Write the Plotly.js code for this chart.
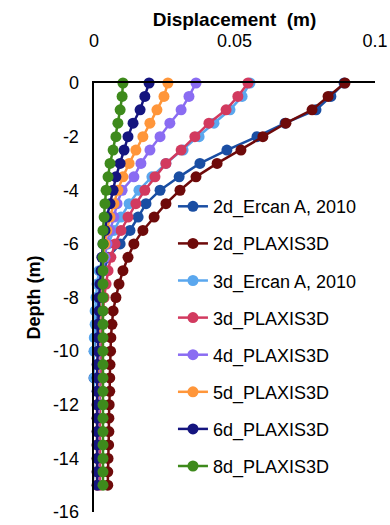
<!DOCTYPE html>
<html>
<head>
<meta charset="utf-8">
<script src="https://cdn.plot.ly/plotly-3.0.1.min.js"></script>
<style>
html,body{margin:0;padding:0;background:#fff;}
#chart{width:390px;height:525px;}
</style>
</head>
<body>
<div id="chart"></div>
<script>
var depth = [0,-0.5,-1,-1.5,-2,-2.5,-3,-3.5,-4,-4.5,-5,-5.5,-6,-6.5,-7,-7.5,-8,-8.5,-9,-9.5,-10,-10.5,-11,-11.5,-12,-12.5,-13,-13.5,-14,-14.5,-15];

var seriesNames = ["2d_Ercan A, 2010","2d_PLAXIS3D","3d_Ercan A, 2010","3d_PLAXIS3D","4d_PLAXIS3D","5d_PLAXIS3D","6d_PLAXIS3D","8d_PLAXIS3D"];

var d2_ercan = [0.0890,0.0843,0.0790,0.0680,0.0580,0.0473,0.0377,0.0303,0.0235,0.0185,0.0157,0.0128,0.0093,0.0050,0.0036,0.0025,0.0018,0.0011,0.0007,0.0004,0.0001,-0.0003,0.0000,-0.0002,-0.0006,-0.0003,-0.0005,-0.0009,-0.0006,-0.0002,-0.0005];
var d2_plaxis = [0.0893,0.0833,0.0776,0.0683,0.0601,0.0523,0.0438,0.0363,0.0306,0.0256,0.0214,0.0174,0.0142,0.0121,0.0103,0.0089,0.0078,0.0068,0.0064,0.0060,0.0059,0.0057,0.0056,0.0056,0.0054,0.0053,0.0053,0.0052,0.0050,0.0049,0.0049];
var d3_ercan = [0.0555,0.0527,0.0484,0.0427,0.0374,0.0317,0.0256,0.0206,0.0160,0.0125,0.0096,0.0071,0.0050,0.0032,0.0018,0.0011,0.0007,0.0004,0.0004,0.0001,0.0000,-0.0003,0.0001,-0.0002,-0.0006,-0.0003,-0.0007,-0.0003,-0.0006,-0.0002,-0.0005];
var d3_plaxis = [0.0548,0.0512,0.0470,0.0409,0.0359,0.0310,0.0256,0.0217,0.0181,0.0149,0.0121,0.0096,0.0075,0.0060,0.0050,0.0043,0.0036,0.0032,0.0028,0.0028,0.0025,0.0025,0.0025,0.0021,0.0021,0.0021,0.0021,0.0021,0.0021,0.0021,0.0021];
var d4_plaxis = [0.0363,0.0338,0.0310,0.0270,0.0235,0.0199,0.0167,0.0142,0.0100,0.0082,0.0071,0.0057,0.0046,0.0039,0.0032,0.0028,0.0025,0.0021,0.0021,0.0018,0.0018,0.0018,0.0018,0.0018,0.0018,0.0014,0.0014,0.0014,0.0014,0.0014,0.0014];
var d5_plaxis = [0.0263,0.0249,0.0224,0.0199,0.0174,0.0149,0.0125,0.0103,0.0085,0.0071,0.0057,0.0046,0.0039,0.0032,0.0028,0.0025,0.0021,0.0021,0.0018,0.0018,0.0014,0.0014,0.0014,0.0014,0.0011,0.0011,0.0011,0.0011,0.0011,0.0011,0.0011];
var d6_plaxis = [0.0196,0.0181,0.0164,0.0139,0.0121,0.0107,0.0093,0.0078,0.0068,0.0057,0.0046,0.0039,0.0032,0.0028,0.0025,0.0021,0.0018,0.0018,0.0014,0.0014,0.0014,0.0011,0.0011,0.0011,0.0011,0.0011,0.0011,0.0011,0.0011,0.0011,0.0011];
var d8_plaxis = [0.0103,0.0100,0.0093,0.0085,0.0078,0.0068,0.0057,0.0050,0.0043,0.0039,0.0036,0.0032,0.0032,0.0032,0.0032,0.0032,0.0032,0.0032,0.0032,0.0032,0.0032,0.0032,0.0032,0.0032,0.0032,0.0032,0.0032,0.0032,0.0032,0.0032,0.0032];

var seriesValues = [d2_ercan,d2_plaxis,d3_ercan,d3_plaxis,d4_plaxis,d5_plaxis,d6_plaxis,d8_plaxis];
var colors = ["#1a4ea3","#6e0a0a","#5aa7ee","#d23a5f","#8a6cf2","#ff963a","#15157f","#3e8a1c"];
var xTicks = [0,0.05,0.1];
var xTickText = ["0","0.05","0.1"];
var yTicks = [0,-2,-4,-6,-8,-10,-12,-14,-16];
var yTickText = ["0","-2","-4","-6","-8","-10","-12","-14","-16"];

var FONT = "Arial, 'Liberation Sans', sans-serif";

var traces = seriesNames.map(function(name,i){
  return {
    type:"scatter", mode:"lines+markers", name:name,
    x: seriesValues[i], y: depth,
    line:{color:colors[i], width:2.5},
    marker:{color:colors[i], size:11, symbol:"circle"},
    cliponaxis:false,
    legendgroup:"g"+i
  };
});

var layout = {
  width:390, height:525,
  margin:{l:94, r:15, t:83, b:13},
  paper_bgcolor:"#fff", plot_bgcolor:"#fff",
  font:{family:FONT, size:18, color:"#000"},
  showlegend:true,
  legend:{
    x:0.281, y:0.755, xanchor:"left", yanchor:"top",
    bgcolor:"rgba(255,255,255,0)", borderwidth:0,
    font:{family:FONT, size:18, color:"#000"},
    tracegroupgap:10.7, traceorder:"grouped"
  },
  xaxis:{
    side:"top", range:[0,0.1], tickvals:xTicks, ticktext:xTickText,
    showline:true, linecolor:"#000", linewidth:2.5, mirror:false,
    showgrid:false, zeroline:false,
    ticks:"outside", ticklen:26, tickcolor:"rgba(0,0,0,0)",
    tickfont:{family:FONT, size:18, color:"#000"},
    title:{text:"<b>Displacement  (m)</b>", font:{family:FONT, size:19, color:"#000"}, standoff:0},
    automargin:false
  },
  yaxis:{
    range:[-16,0], tickvals:yTicks, ticktext:yTickText,
    showline:true, linecolor:"#000", linewidth:2.5,
    showgrid:false, zeroline:false,
    ticks:"outside", ticklen:9, tickcolor:"rgba(0,0,0,0)",
    tickfont:{family:FONT, size:18, color:"#000"},
    title:{text:"<b>Depth (m)</b>", font:{family:FONT, size:18, color:"#000"}, standoff:8},
    automargin:false
  }
};

Plotly.newPlot("chart", traces, layout, {staticPlot:true, displayModeBar:false});
</script>
</body>
</html>
